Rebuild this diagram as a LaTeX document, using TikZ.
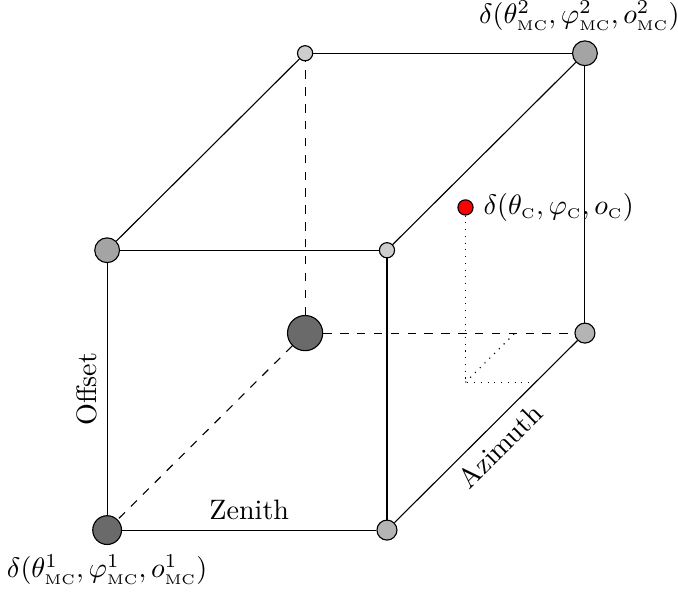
\documentclass[tikz,border=0pt]{standalone}
\usepackage{tikz}
\usepackage{xcolor}
\definecolor{cubeDark}{HTML}{6A6A6A}
\definecolor{cubeMid}{HTML}{A4A4A4}
\definecolor{cubeLight}{HTML}{B4B4B4}
\definecolor{cubePale}{HTML}{CDCDCD}
\definecolor{pointRed}{HTML}{FF0000}
\newcommand{\smallsub}[1]{\mathrm{\scriptscriptstyle #1}}

\begin{document}
\begin{tikzpicture}[x=0.875cm,y=0.875cm,z={(0.619cm,0.616cm)}]
  \tikzset{
    vertex/.style={circle,draw=black,inner sep=0pt,minimum size=#1},
    hidden/.style={dashed}
  }
  \useasboundingbox (-1.34cm,-0.78cm) rectangle (7.14cm,6.63cm);

  % corners of the cube
  \node[vertex=0.36cm,fill=cubeDark] (a) at (0,0,0) {};
  \node[vertex=0.25cm,fill=cubeLight] (b) at (4,0,0) {};
  \node[vertex=0.31cm,fill=cubeMid] (c) at (0,4,0) {};
  \node[vertex=0.19cm,fill=cubePale] (d) at (4,4,0) {};
  \node[vertex=0.44cm,fill=cubeDark] (e) at (0,0,4) {};
  \node[vertex=0.25cm,fill=cubeLight] (f) at (4,0,4) {};
  \node[vertex=0.19cm,fill=cubePale] (g) at (0,4,4) {};
  \node[vertex=0.31cm,fill=cubeMid] (h) at (4,4,4) {};

  % the point inside
  \node[vertex=0.19cm,fill=pointRed] (p) at (3,2.5,3) {};
  \coordinate (q) at (3,0,3);
  \coordinate (qx) at (4,0,3);
  \coordinate (qz) at (3,0,4);

  \draw (a) -- node[sloped,above] (zenith) {Zenith} (b);
  \draw (a) -- node[sloped,above] (offset) {Offset} (c);
  \draw (b) -- node[sloped,below] (azimuth) {Azimuth} (f);
  \draw (c) -- (d);
  \draw (b) -- (d);
  \draw (c) -- (g);
  \draw (g) -- (h);
  \draw (d) -- (h);
  \draw (h) -- (f);

  \draw[hidden] (e) -- (a);
  \draw[hidden] (e) -- (f);
  \draw[hidden] (e) -- (g);

  \draw[dotted] (p) -- (q) -- (qx);
  \draw[dotted] (q) -- (qz);

  \node[below] (labA) at (a.south)
    {$\delta(\theta^1_{\smallsub{MC}},\varphi^1_{\smallsub{MC}},o^1_{\smallsub{MC}})$};
  \node[above,xshift=-0.07cm] (labH) at (h.north)
    {$\delta(\theta^2_{\smallsub{MC}},\varphi^2_{\smallsub{MC}},o^2_{\smallsub{MC}})$};
  \node[right] (labP) at (p.east)
    {$\delta(\theta_{\smallsub{C}},\varphi_{\smallsub{C}},o_{\smallsub{C}})$};
\end{tikzpicture}
\end{document}
